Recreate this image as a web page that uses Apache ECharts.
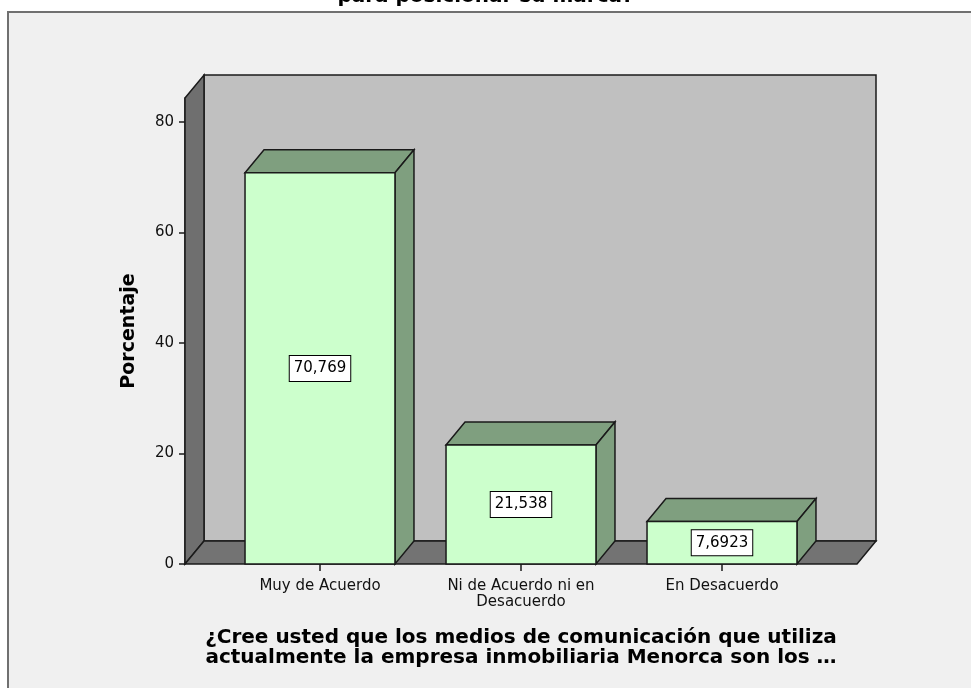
<!DOCTYPE html>
<html>
<head>
<meta charset="utf-8">
<script src="https://cdn.jsdelivr.net/npm/echarts@6/dist/echarts.min.js"></script>
<style>
  html, body { margin: 0; padding: 0; background: #fff; overflow: hidden; }
  #chart { width: 971px; height: 688px; }
</style>
</head>
<body>
<div id="chart"></div>
<script>
// datos del grafico
const categories = ['Muy de Acuerdo', 'Ni de Acuerdo ni en\nDesacuerdo', 'En Desacuerdo'];
const percentages = [70.769, 21.538, 7.6923];
const yTicks = [0, 20, 40, 60, 80];
const yMax = 84.3;

const FONT = 'DejaVu Sans, Verdana, sans-serif';
const depthX = 19, depthY = -23;   // desplazamiento del efecto 3D
const yOffset = 34.5;              // el eje Y queda delante de la pared izquierda
const edge = '#1a1a1a';

// paredes y suelo del grafico 3D
function renderWalls(params, api) {
  const cs = params.coordSys;
  const left = cs.x - yOffset;
  const right = cs.x + cs.width + yOffset;
  const top = api.coord([0, yMax])[1];
  const bottom = api.coord([0, 0])[1];
  const st = function (fill) { return { fill: fill, stroke: edge, lineWidth: 1.5 }; };
  return {
    type: 'group',
    children: [
      { type: 'rect', shape: { x: left + depthX, y: top + depthY, width: right - left, height: bottom - top }, style: st('#c0c0c0') },
      { type: 'polygon', shape: { points: [[left, top], [left + depthX, top + depthY], [left + depthX, bottom + depthY], [left, bottom]] }, style: st('#6f6f6f') },
      { type: 'polygon', shape: { points: [[left, bottom], [left + depthX, bottom + depthY], [right + depthX, bottom + depthY], [right, bottom]] }, style: st('#737373') }
    ]
  };
}

function renderBar(params, api) {
  const p = api.coord([api.value(0), api.value(1)]);
  const base = api.coord([api.value(0), 0]);
  const half = api.size([1, 0])[0] * 0.373;
  const l = p[0] - half, r = p[0] + half, t = p[1], b = base[1];
  const st = function (fill) { return { fill: fill, stroke: edge, lineWidth: 1.5 }; };
  const txt = String(api.value(1)).replace('.', ',');
  return {
    type: 'group',
    children: [
      { type: 'polygon', shape: { points: [[l, t], [l + depthX, t + depthY], [r + depthX, t + depthY], [r, t]] }, style: st('#7f9f7f') },
      { type: 'polygon', shape: { points: [[r, t], [r + depthX, t + depthY], [r + depthX, b + depthY], [r, b]] }, style: st('#7f9f7f') },
      { type: 'rect', shape: { x: l, y: t, width: r - l, height: b - t }, style: st('#ccffcc') },
      {
        type: 'text', x: p[0], y: (t + b) / 2, z2: 10,
        style: {
          text: txt, align: 'center', verticalAlign: 'middle',
          font: '15px ' + FONT, fill: '#000',
          backgroundColor: '#fff', borderColor: '#000', borderWidth: 1,
          padding: [5, 4]
        }
      }
    ]
  };
}

const chart = echarts.init(document.getElementById('chart'));

const option = {
  backgroundColor: '#fff',
  animation: false,
  graphic: [{
    type: 'rect', z: -100,
    shape: { x: 8, y: 12, width: 1100, height: 800 },
    style: { fill: '#f0f0f0', stroke: '#707070', lineWidth: 2 }
  }],
  title: {
    text: 'para posicionar su marca?',
    left: 'center',
    top: -18,
    textStyle: { fontFamily: FONT, fontSize: 20, fontWeight: 'bold', color: '#000', lineHeight: 20 }
  },
  grid: { left: 219.5, width: 603, top: 98, bottom: 124 },
  xAxis: {
    type: 'category',
    data: categories,
    axisLine: { show: false },
    axisTick: { show: true, alignWithLabel: true, length: 7, lineStyle: { color: edge, width: 1.5 } },
    axisLabel: { margin: 14, fontFamily: FONT, fontSize: 15, color: '#111', lineHeight: 16 },
    name: '¿Cree usted que los medios de comunicación que utiliza\nactualmente la empresa inmobiliaria Menorca son los …',
    nameLocation: 'middle',
    nameGap: 64,
    nameTextStyle: { fontFamily: FONT, fontSize: 20, fontWeight: 'bold', color: '#000', lineHeight: 20 }
  },
  yAxis: {
    type: 'value',
    min: 0,
    max: yMax,
    offset: yOffset,
    splitLine: { show: false },
    axisLine: { show: true, lineStyle: { color: edge, width: 1.5 } },
    axisTick: { show: true, length: 6, customValues: yTicks, lineStyle: { color: edge, width: 1.5 } },
    axisLabel: { margin: 11, customValues: yTicks, fontFamily: FONT, fontSize: 15, color: '#111' },
    name: 'Porcentaje',
    nameLocation: 'middle',
    nameGap: 46,
    nameTextStyle: { fontFamily: FONT, fontSize: 19, fontWeight: 'bold', color: '#000' }
  },
  series: [
    {
      type: 'custom',
      z: 1,
      clip: false,
      silent: true,
      renderItem: renderWalls,
      data: [[0, 0]]
    },
    {
      type: 'custom',
      z: 2,
      clip: false,
      renderItem: renderBar,
      encode: { x: 0, y: 1 },
      data: percentages.map(function (v, i) { return [i, v]; })
    }
  ]
};

chart.setOption(option);
</script>
</body>
</html>
